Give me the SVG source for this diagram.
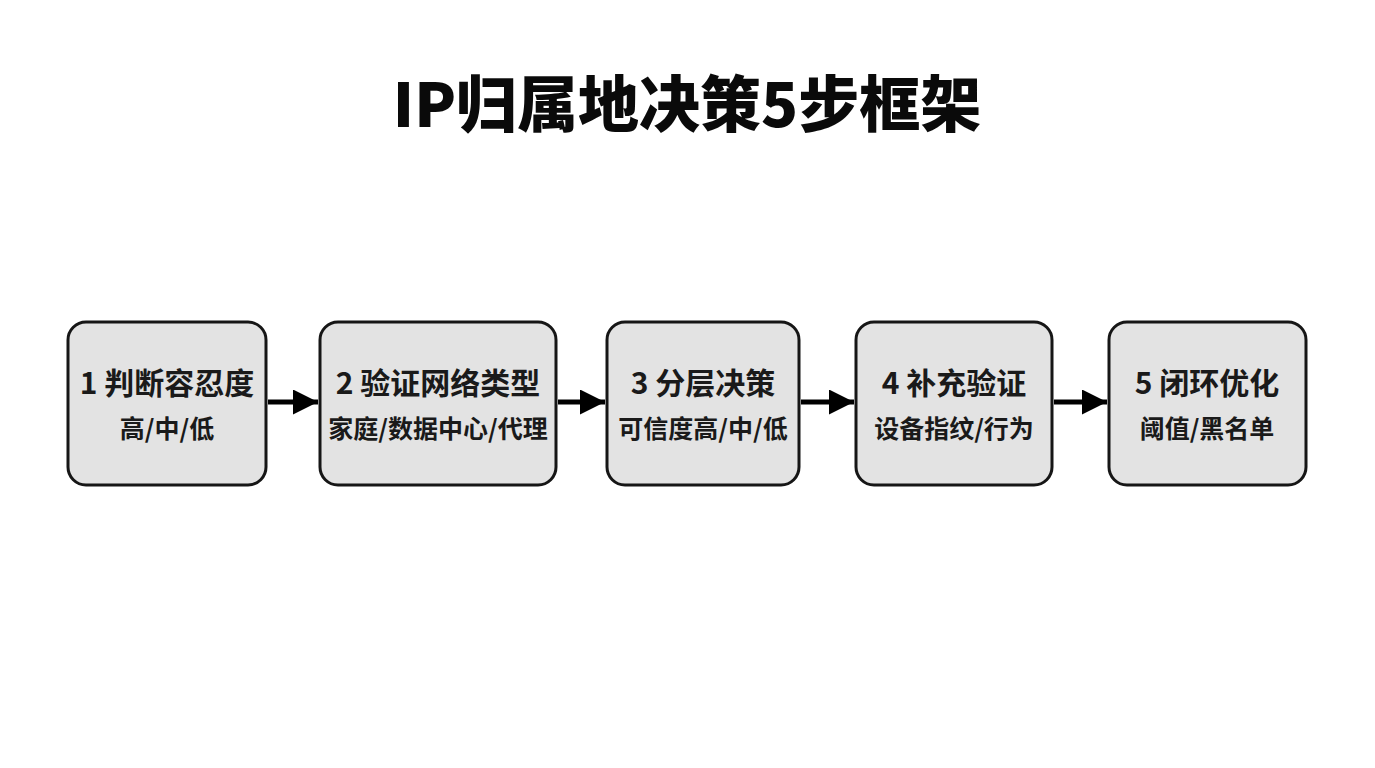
<svg xmlns="http://www.w3.org/2000/svg" width="1375" height="768" viewBox="0 0 1375 768">
<style>
.box{fill:#e3e3e3;stroke:#161616;stroke-width:3}
.t1{font-family:"Noto Sans CJK SC","Noto Sans",sans-serif;font-weight:700;font-size:30px;fill:#1a1a1a;text-anchor:middle}
.t2{font-family:"Noto Sans CJK SC","Noto Sans",sans-serif;font-weight:700;font-size:25px;fill:#1a1a1a;text-anchor:middle}
.title{font-family:"Noto Sans CJK SC","Noto Sans",sans-serif;font-weight:900;font-size:61px;fill:#0a0a0a;text-anchor:middle}
.conn{stroke:#000;stroke-width:5;fill:none}
</style>
<defs>
<marker id="ah" markerWidth="5" markerHeight="5" refX="5" refY="2.5" orient="auto" markerUnits="strokeWidth" viewBox="0 0 5 5">
<path d="M0,0 L5,2.5 L0,5 Z" fill="#000"/>
</marker>
</defs>
<rect width="1375" height="768" fill="#ffffff"/>
<text class="title" x="687" y="127">IP归属地决策5步框架</text>
<g id="connectors">
<line class="conn" x1="268" y1="402" x2="318" y2="402" marker-end="url(#ah)"/>
<line class="conn" x1="558" y1="402" x2="605" y2="402" marker-end="url(#ah)"/>
<line class="conn" x1="801" y1="402" x2="854" y2="402" marker-end="url(#ah)"/>
<line class="conn" x1="1054" y1="402" x2="1107" y2="402" marker-end="url(#ah)"/>
</g>
<g id="node1">
<rect class="box" x="68" y="322" width="198" height="163" rx="18"/>
<text class="t1" x="167" y="394">1 判断容忍度</text>
<text class="t2" x="167" y="438">高/中/低</text>
</g>
<g id="node2">
<rect class="box" x="320" y="322" width="236" height="163" rx="18"/>
<text class="t1" x="438" y="394">2 验证网络类型</text>
<text class="t2" x="438" y="438">家庭/数据中心/代理</text>
</g>
<g id="node3">
<rect class="box" x="607" y="322" width="192" height="163" rx="18"/>
<text class="t1" x="703" y="394">3 分层决策</text>
<text class="t2" x="703" y="438">可信度高/中/低</text>
</g>
<g id="node4">
<rect class="box" x="856" y="322" width="196" height="163" rx="18"/>
<text class="t1" x="954" y="394">4 补充验证</text>
<text class="t2" x="954" y="438">设备指纹/行为</text>
</g>
<g id="node5">
<rect class="box" x="1109" y="322" width="197" height="163" rx="18"/>
<text class="t1" x="1207" y="394">5 闭环优化</text>
<text class="t2" x="1207" y="438">阈值/黑名单</text>
</g>
</svg>
